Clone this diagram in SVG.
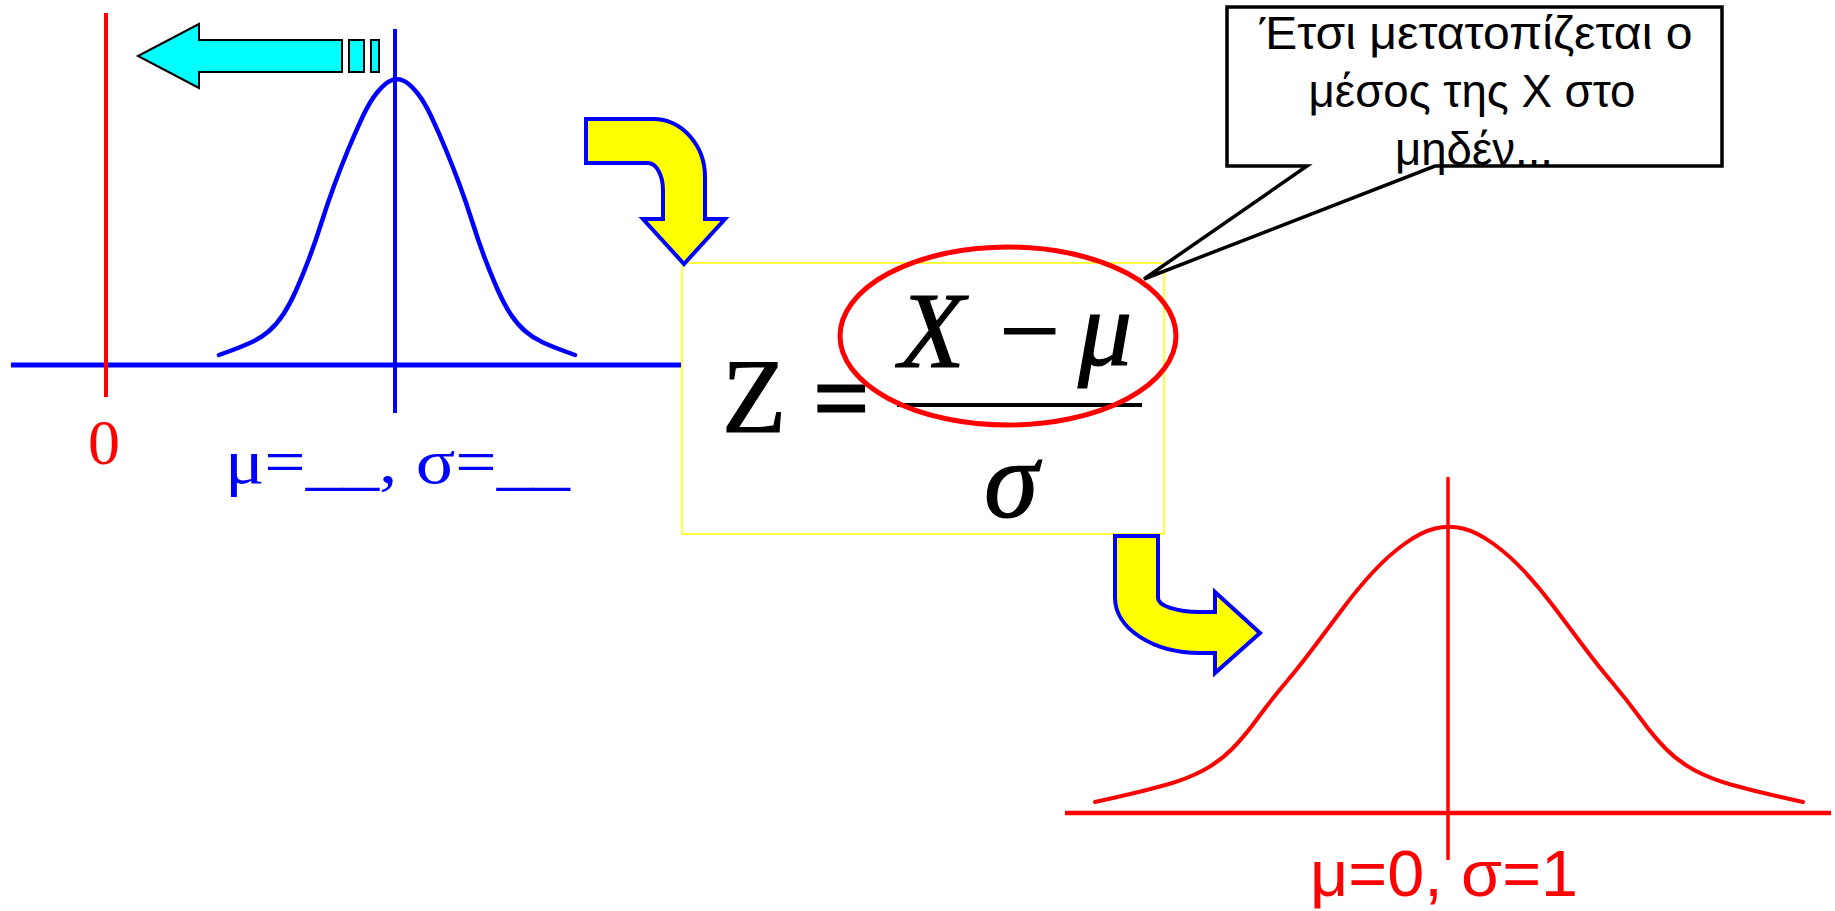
<svg xmlns="http://www.w3.org/2000/svg" width="1835" height="911" viewBox="0 0 1835 911">
<style>
.blue{stroke:#0000FF;fill:none}
.red{stroke:#FF0000;fill:none}
.yarrow{fill:#FFFF00;stroke:#0000FF;stroke-width:4;stroke-linejoin:miter}
.serif{font-family:"Liberation Serif","Times New Roman",serif}
.sans{font-family:"Liberation Sans",Arial,sans-serif}
.math{font-family:"Liberation Serif","Times New Roman",serif;fill:#000;stroke:#000;stroke-width:1.2}
.callout{font-family:"Liberation Sans",Arial,"DejaVu Sans",sans-serif;font-size:46px;fill:#000;text-anchor:middle}
</style>
<rect width="1835" height="911" fill="#FFFFFF"/>

<g id="left-distribution">
  <line class="blue" x1="11" y1="365" x2="681" y2="365" stroke-width="5"/>
  <line class="blue" x1="395" y1="29" x2="395" y2="413" stroke-width="4"/>
  <line class="red" x1="106" y1="13" x2="106" y2="397" stroke-width="4"/>
  <path class="blue" stroke-width="4.5" stroke-linecap="round" d="M219,355 L230,351 Q241,347 251,342.5 Q261,338 269,331 Q277,324 283.5,314 Q290,304 296,290.5 Q302,277 308.5,260 Q315,243 321.5,222.5 Q328,202 334.5,184.5 Q341,167 348,150 Q355,133 362.5,117 Q370,101 377.5,92 Q385,83 391,80.5 Q397,78 403,80.5 Q409,83 416.5,92 Q424,101 431.5,117 Q439,133 446,150 Q453,167 459.5,184.5 Q466,202 472.5,222.5 Q479,243 485.5,260 Q492,277 498,290.5 Q504,304 510.5,314 Q517,324 525,331 Q533,338 543,342.5 Q553,347 564,351 L575,355"/>
  <text class="serif" x="104" y="464" font-size="64" fill="#FF0000" text-anchor="middle">0</text>
  <text class="serif" x="225" y="483" font-size="64" fill="#0000FF" textLength="345" lengthAdjust="spacingAndGlyphs">μ=__, σ=__</text>
</g>

<g id="shift-arrow">
  <polygon points="138,56 199,24 199,40 342,40 342,72 199,72 199,88" fill="#00FFFF" stroke="#000" stroke-width="2"/>
  <rect x="349" y="40" width="15" height="32" fill="#00FFFF" stroke="#000" stroke-width="2"/>
  <rect x="371" y="40" width="8" height="32" fill="#00FFFF" stroke="#000" stroke-width="2"/>
</g>

<g id="formula-box">
  <rect x="682" y="263" width="482" height="271" fill="#FFFFFF" stroke="#FFFF00" stroke-width="1.5"/>
  <text class="math" x="722" y="432" font-size="105">Z</text>
  <text class="math" x="813" y="432" font-size="100" font-weight="bold">=</text>
  <text class="math" x="899" y="367" font-size="108" font-style="italic">X</text>
  <text class="math" x="999" y="367" font-size="108">−</text>
  <text class="math" x="1078" y="365" font-size="108" font-style="italic">μ</text>
  <line x1="897" y1="405" x2="1142" y2="405" stroke="#000" stroke-width="4"/>
  <text class="math" x="984" y="517" font-size="110" font-style="italic">σ</text>
</g>

<g id="callout">
  <path d="M1227,7 H1722 V166 H1435 L1144,279 L1307,166 H1227 Z" fill="#FFFFFF" stroke="#000" stroke-width="3.5" stroke-linejoin="miter"/>
  <text class="callout" x="1476" y="49" textLength="433" lengthAdjust="spacingAndGlyphs">Έτσι μετατοπίζεται ο</text>
  <text class="callout" x="1472" y="107" textLength="327" lengthAdjust="spacingAndGlyphs">μέσος της Χ στο</text>
  <text class="callout" x="1474" y="165" textLength="158" lengthAdjust="spacingAndGlyphs">μηδέν...</text>
</g>

<g id="highlight">
  <ellipse cx="1008" cy="336" rx="168" ry="89" fill="none" stroke="#FF0000" stroke-width="5"/>
</g>

<g id="right-distribution">
  <line class="red" x1="1065" y1="813" x2="1831" y2="813" stroke-width="4.5"/>
  <line class="red" x1="1448" y1="477" x2="1448" y2="860" stroke-width="3.5"/>
  <path class="red" stroke-width="4" stroke-linecap="round" d="M1095,802 L1119.5,796.5 Q1144,791 1165.5,785 Q1187,779 1203,770.5 Q1219,762 1231.5,749.5 Q1244,737 1257.5,718.5 Q1271,700 1285,683.5 Q1299,667 1314,647 Q1329,627 1344,607 Q1359,587 1374,571 Q1389,555 1405,543.5 Q1421,532 1435,528.5 Q1449,525 1463,528.5 Q1477,532 1493,543.5 Q1509,555 1524,571 Q1539,587 1554,607 Q1569,627 1584,647 Q1599,667 1613,683.5 Q1627,700 1640.5,718.5 Q1654,737 1666.5,749.5 Q1679,762 1695,770.5 Q1711,779 1732.5,785 Q1754,791 1778.5,796.5 L1803,802"/>
  <text class="sans" x="1310" y="896" font-size="64" fill="#FF0000" textLength="268" lengthAdjust="spacingAndGlyphs">μ=0, σ=1</text>
</g>

<g id="connectors">
  <path class="yarrow" d="M586,119 L653,119 A52,58 0 0 1 705,177 L705,219 L725,219 L684,264 L643,219 L663,219 L663,190 A15,27 0 0 0 648,163 L586,163 Z"/>
  <path class="yarrow" d="M1115,536 L1158,536 L1158,598 A42,14 0 0 0 1200,612 L1215,612 L1215,592 L1260,633 L1215,673 L1215,653 L1200,653 A85,55 0 0 1 1115,598 Z"/>
</g>
</svg>
